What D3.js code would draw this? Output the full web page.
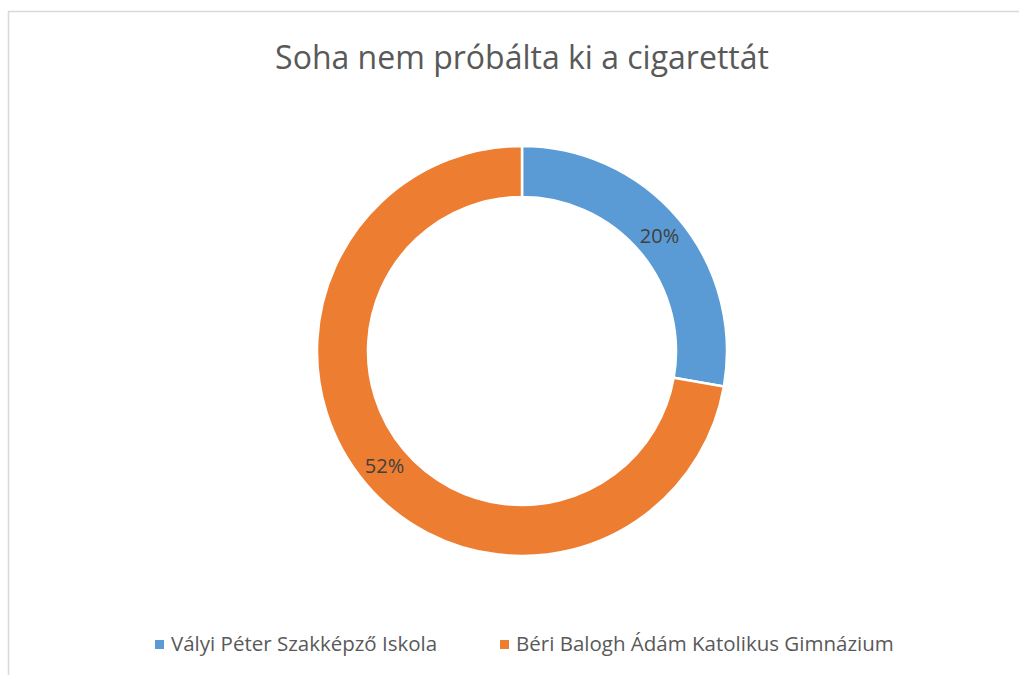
<!DOCTYPE html>
<html>
<head>
<meta charset="utf-8">
<script src="https://cdn.jsdelivr.net/npm/d3@7"></script>
<style>
	body { margin: 0; background: #fff; }
	text { font-family: "Open Sans", "Noto Sans", sans-serif; }
</style>
</head>
<body>
<script>
var title = "Soha nem próbálta ki a cigarettát";
var categories = ["Vályi Péter Szakképző Iskola", "Béri Balogh Ádám Katolikus Gimnázium"];
var values = [20, 52];
var colors = ["#5B9BD5", "#ED7D31"];

var width = 1019, height = 675;

var svg = d3.select("body")
		.append("svg")
		.attr("width", width)
		.attr("height", height);

// chart area border (runs off the right and bottom)
svg.append("rect")
		.attr("x", 8.5)
		.attr("y", 11.5)
		.attr("width", 1100)
		.attr("height", 800)
		.attr("fill", "#fff")
		.attr("stroke", "#d9d9d9")
		.attr("stroke-width", 1.5);

svg.append("text")
		.attr("x", 522)
		.attr("y", 69)
		.attr("text-anchor", "middle")
		.attr("font-size", 32)
		.attr("fill", "#595959")
		.text(title);

var cx = 522, cy = 351, outer = 205, inner = 154;

var pie = d3.pie().sort(null)(values);
var arc = d3.arc().innerRadius(inner).outerRadius(outer);

var g = svg.append("g")
		.attr("transform", "translate(" + cx + "," + cy + ")");

g.selectAll("path")
		.data(pie)
		.enter().append("path")
		.attr("d", arc)
		.attr("fill", function(d, i) { return colors[i]; })
		.attr("stroke", "#fff")
		.attr("stroke-width", 2.5);

g.selectAll("text.lbl")
		.data(pie)
		.enter().append("text")
		.attr("class", "lbl")
		.attr("transform", function(d) {
			var c = arc.centroid(d);
			return "translate(" + c[0] + "," + c[1] + ")";
		})
		.attr("dy", "0.35em")
		.attr("text-anchor", "middle")
		.attr("font-size", 20)
		.attr("fill", "#404040")
		.text(function(d) { return d.value + "%"; });

// legend
var legendX = [155, 500];
var legend = svg.selectAll("g.legend")
		.data(categories)
		.enter().append("g")
		.attr("class", "legend")
		.attr("transform", function(d, i) { return "translate(" + legendX[i] + ",644)"; });

legend.append("rect")
		.attr("x", 0)
		.attr("y", -4)
		.attr("width", 9)
		.attr("height", 9)
		.attr("fill", function(d, i) { return colors[i]; });

legend.append("text")
		.attr("x", 16)
		.attr("y", 0)
		.attr("dy", "0.35em")
		.attr("font-size", 20.5)
		.attr("fill", "#595959")
		.text(function(d) { return d; });
</script>
</body>
</html>
